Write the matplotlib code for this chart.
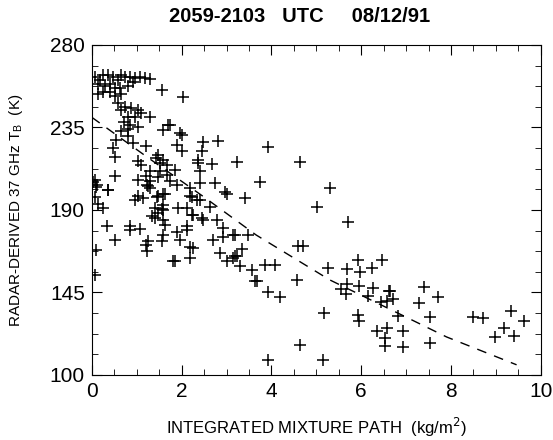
import numpy as np
import matplotlib.pyplot as plt
from matplotlib.ticker import MultipleLocator

plt.rcParams['font.family'] = ['Liberation Sans', 'DejaVu Sans']

# integrated mixture path (kg/m^2) and radar-derived 37 GHz Tb (K)
imp = [0.24, 0.36, 0.47, 0.65, 0.74, 0.85, 0.96, 1.07, 1.18,
       0.13, 0.29, 0.40, 0.51, 0.63, 0.80,
       0.07, 0.18, 0.58, 0.92, 1.29,
       0.24, 0.40, 0.51, 0.65, 0.13,
       0.58, 0.74, 0.65, 0.87, 1.03,
       1.09, 1.29, 0.96, 0.80,
       1.56, 2.03,
       0.65, 0.80, 1.03, 0.71, 0.85,
       0.54, 0.80, 0.92, 0.47, 0.51,
       1.21, 1.03, 1.09, 1.47, 1.43, 1.52,
       1.29, 1.52, 1.21, 1.47, 0.51,
       0.07, 0.09, 0.07, 0.36, 1.25, 1.03, 1.47, 1.58,
       1.69, 1.58, 1.96, 1.74, 2.01,
       2.81, 2.48, 2.46, 1.90, 2.01,
       2.37, 2.37, 2.41, 2.68, 3.24,
       1.58, 1.67, 1.85,
       2.41, 2.75, 2.97, 3.42, 2.19, 2.23, 2.41,
       1.63, 1.58, 1.58, 1.92, 2.12, 2.63,
       2.23, 2.46, 2.79, 1.58, 2.12,
       0.02, 0.11, 0.36, 1.03, 1.29, 1.23, 1.29, 1.74, 1.90, 1.67,
       0.96, 1.14, 1.45,
       1.41, 1.56, 1.47, 1.34, 1.41,
       2.19, 2.34,
       3.01, 2.25, 2.48, 2.92, 3.15,
       0.13, 0.25, 0.33, 0.85, 0.85, 1.07,
       1.63, 1.90, 2.12,
       1.58, 1.56, 1.25, 1.23,
       1.96, 2.19, 2.25, 2.19,
       0.51, 1.85, 2.70, 2.92, 2.86, 3.01, 3.15, 3.24,
       0.09, 0.07, 1.21, 1.81,
       3.93, 4.64, 3.75, 5.31, 5.02, 5.71, 3.19, 3.48,
       4.71, 4.60, 3.86, 4.08, 5.27, 4.58,
       5.92, 5.98, 5.69, 6.25, 6.47, 3.68, 3.93, 4.20,
       5.69, 5.54, 5.65, 6.27, 6.16,
       3.35, 3.19, 3.30, 3.57, 3.64,
       5.94, 6.61, 6.58, 5.92, 5.94, 5.16, 6.36, 6.58, 6.54, 6.54, 4.64, 3.93, 5.14,
       6.65, 6.70, 6.43, 7.39, 7.70, 7.28, 6.81, 7.54, 6.94, 6.94, 7.54,
       8.48, 8.71, 9.33, 9.62, 9.17, 8.99, 9.40]
tb = [263.6, 263.6, 262.5, 263.6, 262.5, 262.5, 261.9, 262.5, 261.9,
      258.7, 257.6, 258.7, 256.5, 256.5, 257.6,
      262.5, 260.9, 260.9, 259.8, 261.4,
      254.4, 254.4, 252.2, 253.3, 253.3,
      248.2, 246.2, 244.6, 245.7, 244.6,
      242.9, 240.7, 240.7, 240.7,
      255.5, 251.6,
      233.1, 234.2, 235.3, 238.0, 236.4,
      228.2, 230.3, 226.5, 223.8, 218.9,
      225.0, 216.8, 214.5, 220.0, 218.4, 215.6,
      211.3, 211.3, 208.5, 207.9, 208.5,
      206.4, 202.5, 197.1, 201.0, 203.1, 197.6, 197.6, 198.7,
      236.4, 233.6, 232.0, 236.4, 230.9,
      227.6, 227.1, 222.2, 225.5, 222.2,
      217.3, 215.6, 211.3, 215.0, 216.1,
      217.3, 214.5, 211.8,
      204.7, 204.7, 199.8, 196.5, 202.0, 197.1, 195.5,
      198.7, 192.7, 190.0, 191.1, 191.1, 191.6,
      187.3, 185.6, 184.6, 184.6, 181.3,
      205.3, 203.6, 200.9, 206.4, 205.8, 203.6, 202.0, 205.8, 203.6, 209.1,
      195.5, 196.5, 197.1,
      191.1, 190.6, 188.4, 186.8, 185.6,
      197.6, 195.4,
      198.7, 187.3, 184.6, 180.2, 176.4,
      193.3, 191.1, 181.3, 181.3, 179.1, 179.7,
      181.8, 177.9, 178.9,
      176.4, 173.1, 173.1, 167.6,
      173.6, 169.8, 169.3, 163.8,
      173.6, 162.1, 173.6, 175.3, 166.6, 162.1, 163.8, 164.9,
      168.2, 154.6, 170.8, 162.1,
      224.4, 216.2, 205.3, 201.9, 191.6, 183.5, 176.4, 176.4,
      170.3, 170.3, 160.0, 160.0, 158.4, 151.8,
      162.7, 156.3, 157.9, 158.5, 162.7, 151.3, 145.3, 142.5,
      149.6, 146.9, 144.2, 147.5, 143.1,
      168.8, 165.0, 159.5, 157.3, 151.3,
      148.6, 145.8, 140.4, 132.7, 129.5, 133.8, 124.0, 125.6, 120.2, 115.8, 116.4, 108.2, 108.2,
      145.8, 141.5, 139.9, 148.1, 142.5, 139.3, 132.2, 131.6, 123.9, 115.3, 117.5,
      131.6, 131.0, 134.9, 129.5, 125.6, 120.8, 121.3]

# fitted relation drawn as the dashed curve
fit_x = [0.0, 1.25, 2.5, 3.66, 5.3, 6.9, 7.9, 9.46]
fit_y = [240.5, 218.5, 197.0, 176.3, 151.8, 132.7, 120.7, 105.5]

x_ticks = [0, 2, 4, 6, 8, 10]
y_ticks = [100, 145, 190, 235, 280]

fig = plt.figure(figsize=(5.53, 4.40), dpi=100)
ax = fig.add_axes([0.166, 0.148, 0.812, 0.75])

ax.plot(imp, tb, linestyle='none', marker='+', markersize=9,
        markeredgewidth=1.1, color='black')
ax.plot(fit_x, fit_y, color='black', linewidth=1.0, dashes=(7, 6))

ax.set_xlim(0, 10)
ax.set_ylim(100, 280)
ax.set_xticks(x_ticks)
ax.set_yticks(y_ticks)
ax.xaxis.set_minor_locator(MultipleLocator(0.5))
ax.set_yticks(np.arange(100, 281, 11.25), minor=True)
ax.tick_params(which='both', direction='in', top=True, right=True)
ax.tick_params(which='major', length=7, labelsize=15, pad=5)
ax.tick_params(which='minor', length=4)

ax.set_xlabel('INTEGRATED MIXTURE PATH  (kg/m$^2$)', fontsize=12, labelpad=11)
ax.set_ylabel('RADAR-DERIVED 37 GHz T$_\\mathregular{B}$  (K)', fontsize=11, labelpad=18)

fig.text(0.541, 0.963, '2059-2103   UTC     08/12/91', ha='center', va='center',
         fontsize=14.5, fontweight='bold')

fig.savefig('out.png', dpi=100)
